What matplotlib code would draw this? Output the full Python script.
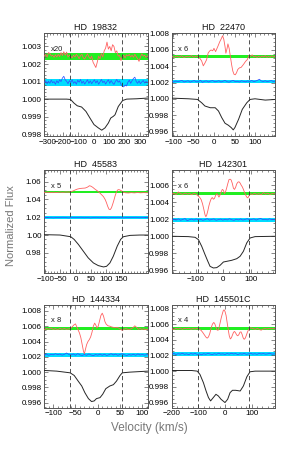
import matplotlib
matplotlib.use("Agg")
import matplotlib.pyplot as plt
from matplotlib.ticker import AutoMinorLocator, FixedLocator, FormatStrFormatter
import numpy as np

plt.rcParams['font.family'] = ['Liberation Sans', 'DejaVu Sans']

# ---------------- data (flux values in units of 1e-4 relative to 1) ----------------
names = ["HD  19832", "HD  22470", "HD  45583", "HD  142301", "HD  144334", "HD  145501C"]
factors = ["x20", "x 6", "x 5", "x 6", "x 8", "x 4"]
vlims = [(-152, 182), (-41, 85), (-18, 151), (-93, 93), (-62, 54), (-103, 91)]
xranges = [(-319, 349), (-104, 148), (-102.5, 235.5), (-186, 186), (-120, 112), (-200, 188)]
yranges = [(0.99791, 1.00375), (0.99545, 1.00805), (0.9574, 1.0724),
           (0.99569, 1.00772), (0.99538, 1.00877), (0.99537, 1.00842)]
xticks = [[-300, -200, -100, 0, 100, 200, 300], [-100, -50, 0, 50, 100],
          [-100, -50, 0, 50, 100, 150], [-100, 0, 100], [-100, -50, 0, 50, 100],
          [-200, -100, 0, 100]]
yticks = [[0.998, 0.999, 1.000, 1.001, 1.002, 1.003],
          [0.996, 0.998, 1.000, 1.002, 1.004, 1.006, 1.008],
          [0.98, 1.00, 1.02, 1.04, 1.06],
          [0.996, 0.998, 1.000, 1.002, 1.004, 1.006],
          [0.996, 0.998, 1.000, 1.002, 1.004, 1.006, 1.008],
          [0.996, 0.998, 1.000, 1.002, 1.004, 1.006, 1.008]]
yfmt = ["%.3f", "%.3f", "%.2f", "%.3f", "%.3f", "%.3f"]
# band centre / half width (1e-4 units): Stokes V (green) and null (cyan)
green_band = [(24.3, 2.2), (51.6, 1.8), (479, 12), (49.8, 1.8), (56.6, 2.2), (53.9, 1.7)]
cyan_band = [(9.6, 1.9), (21.5, 2.2), (196, 12), (19.5, 2.3), (22.9, 2.5), (21.9, 2.0)]

# ---- HD 19832 ----
v_I1 = [-319, -175, -149, -127, -106, -78, -50, -24, 2, 30, 52, 73, 95, 110, 127, 138, 159, 187, 213, 278, 349]
I1 = [0.0, 0.0, -0.2, -2.3, -3.8, -4.5, -7.0, -10.8, -14.5, -16.4, -17.7, -16.4, -13.6, -10.8, -9.8, -8.9, -4.2, -0.8, 0.0, 0.2, 0.6]
v_V1 = [-319, -310, -301, -292, -283, -274, -265, -256, -247, -238, -229, -220, -211, -202, -193, -184, -175,
        -166, -157, -148, -139, -130, -121, -112, -103, -94, -85, -76, -67, -58, -49, -40, -31, -22, -13, -4,
        5, 14, 23, 32, 41, 50, 59, 68, 77, 86, 95, 104, 113, 122, 131, 140, 149, 158, 167, 176, 185, 194, 203,
        212, 221, 230, 239, 248, 257, 266, 275, 284, 293, 302, 311, 320, 329, 338, 349]
V1 = [24.5, 25.5, 24.0, 26.5, 26.0, 24.5, 25.0, 23.8, 25.2, 24.0, 25.5, 24.2, 26.5, 24.8, 27.0, 25.0, 26.8,
      24.0, 25.0, 24.5, 23.5, 25.0, 24.0, 25.5, 24.5, 23.0, 24.8, 25.5, 23.5, 22.8, 24.5, 25.8, 24.0, 23.0, 24.5, 21.0,
      19.5, 18.0, 21.0, 24.5, 23.0, 26.0, 24.0, 27.5, 29.0, 32.5, 28.5, 30.0, 27.5, 31.0, 30.0, 26.5, 27.5, 24.5, 25.0,
      22.0, 24.0, 25.0, 23.5, 25.2, 24.6, 25.5, 24.0, 25.0, 23.8, 25.6, 24.2, 23.0, 21.5, 24.0, 25.8, 24.5, 25.0, 23.8, 24.6]
N1 = [9.5, 10.5, 8.8, 10.2, 9.0, 10.8, 9.3, 10.0, 8.5, 10.5, 9.2, 11.0, 10.0, 12.0, 13.0, 11.0, 10.2,
      8.8, 10.5, 9.5, 11.0, 9.0, 10.0, 8.5, 10.8, 9.6, 11.2, 9.0, 10.2, 8.6, 9.8, 11.0, 9.0, 10.4, 8.8, 10.0,
      11.0, 9.2, 10.5, 8.5, 9.8, 11.2, 9.4, 10.2, 8.6, 10.0, 11.0, 9.0, 10.6, 9.2, 8.4, 10.0, 11.2, 9.6, 10.4,
      8.5, 7.2, 7.0, 8.0, 7.5, 9.6, 10.8, 9.0, 10.5, 11.8, 12.5, 10.0, 9.0, 10.4, 8.8, 9.8, 10.6, 9.2, 10.0, 9.6]

# ---- HD 22470 ----
v_I2 = [-104, -63, -41, -31, -23, -10, 2, 10, 18, 26, 34, 41, 46, 50, 59, 68, 79, 87, 99, 124, 148]
I2 = [0.8, 0.0, -0.8, -4.9, -8.9, -11.0, -11.0, -15.0, -23.2, -30.1, -32.5, -35.4, -38.2, -35.4, -25.2, -13.0, -4.9, -0.8, 0.0, -1.6, -0.8]
v_V2 = [-104, -98, -92, -86, -80, -74, -68, -62, -56, -50, -44, -40, -35, -31, -27, -23, -19, -15, -11, -8, -4, -1,
        3, 6, 9, 13, 17, 20, 23, 26, 28, 31, 33, 36, 39, 42, 45, 48, 51, 54, 57, 61, 65, 69, 72, 76, 80, 84, 88,
        92, 96, 100, 104, 108, 112, 116, 120, 124, 128, 132, 136, 140, 144, 148]
V2 = [52.0, 51.0, 52.5, 51.2, 52.8, 50.8, 52.0, 51.5, 53.0, 51.2, 52.5, 52.0, 49.5, 46.5, 40.5, 44.0, 48.0, 56.5,
      59.0, 60.0, 59.0, 62.0, 58.0, 61.5, 65.0, 70.0, 74.0, 77.5, 73.0, 64.0, 56.0, 62.0, 67.5, 62.0, 52.0, 42.0,
      34.0, 30.0, 29.5, 32.0, 36.0, 38.0, 38.5, 41.0, 43.0, 46.0, 48.0, 53.0, 52.0, 54.0, 51.5, 52.5, 50.8, 52.2,
      51.0, 52.5, 51.5, 53.0, 51.0, 52.0, 51.2, 52.8, 51.5, 52.0]
v_N2 = [-104, -99, -94, -89, -84, -79, -74, -69, -64, -59, -54, -49, -44, -39, -34, -29, -24, -19, -14, -9, -4, 1,
        6, 11, 16, 21, 26, 31, 36, 41, 46, 51, 56, 61, 66, 71, 76, 81, 86, 91, 96, 101, 106, 110, 114, 119, 124,
        129, 134, 139, 144, 148]
N2 = [21.5, 20.5, 22.0, 20.8, 21.8, 22.6, 20.6, 21.4, 22.2, 20.4, 21.6, 22.4, 20.8, 21.2, 22.8, 20.2, 21.6, 22.0,
      20.6, 21.8, 22.4, 20.8, 21.4, 22.2, 20.6, 21.6, 22.6, 21.0, 20.4, 21.8, 22.6, 21.0, 21.6, 20.6, 22.2, 21.4,
      20.8, 22.0, 21.2, 22.6, 21.0, 21.8, 23.0, 24.0, 22.0, 21.2, 22.2, 21.0, 21.8, 22.4, 21.2, 21.8]

# ---- HD 45583 ----
v_I3 = [-102.5, -51, -16, -5, 9, 25, 41, 58, 74, 91, 101, 112, 123, 136, 147, 156, 178, 210, 235.5]
I3 = [4, 0, -19, -49, -106, -181, -256, -313, -343, -358, -351, -313, -238, -124, -49, -19, -4, 0, 0]
v_V3 = [-102, -92, -82, -72, -62, -52, -42, -32, -22, -16, -8, -2, 5, 14, 22, 31, 39, 45, 50, 56, 63, 70, 77,
        84, 91, 97, 101, 105, 109, 113, 117, 121, 125, 129, 133, 137, 141, 145, 150, 156, 163, 172, 182, 192,
        202, 212, 222, 235]
V3 = [478, 481, 476, 480, 477, 482, 479, 483, 481, 485, 495, 505, 515, 522, 525, 527, 538, 553, 548, 535, 515,
      498, 478, 455, 430, 395, 360, 320, 290, 285, 305, 345, 390, 440, 480, 505, 510, 505, 495, 480, 474, 472,
      476, 473, 477, 474, 476, 474]
v_N3 = [-102, -92, -82, -72, -62, -52, -42, -32, -22, -12, -2, 8, 18, 28, 38, 48, 58, 68, 78, 88, 98, 108, 118,
        128, 138, 148, 158, 168, 178, 188, 198, 208, 218, 228, 235]
N3 = [195, 198, 196, 193, 198, 195, 199, 196, 193, 198, 195, 197, 199, 194, 198, 193, 196, 199, 194, 198, 196,
      193, 198, 195, 199, 196, 193, 198, 195, 197, 199, 194, 198, 195, 196]

# ---- HD 142301 ----
v_I4 = [-186, -126, -102, -90, -78, -66, -56, -48, -36, -24, -12, 0, 12, 30, 48, 60, 72, 84, 96, 114, 186]
I4 = [0, -0.4, -1.2, -3.9, -11.8, -21.6, -29.4, -35.3, -37.2, -36.8, -34.1, -30.2, -29.4, -28.2, -26.3, -23.5, -17.6, -7.8, -2.0, -0.4, 0]
v_V4 = [-186, -178, -170, -162, -154, -146, -138, -130, -122, -114, -106, -98, -92, -86, -80, -75, -70, -66, -63,
        -60, -56, -52, -48, -44, -40, -36, -32, -28, -24, -20, -16, -12, -8, -4, 0, 4, 8, 12, 16, 20, 24, 28, 32,
        36, 40, 44, 48, 52, 56, 60, 64, 68, 72, 76, 80, 84, 88, 92, 96, 104, 112, 120, 128, 136, 144, 152, 160,
        168, 176, 186]
V4 = [49.5, 50.5, 49.0, 52.0, 50.0, 49.2, 50.8, 49.5, 50.2, 48.8, 50.5, 49.6, 47.5, 46.0, 43.0, 38.0, 31.0, 25.0,
      23.0, 25.0, 30.0, 36.0, 40.5, 44.0, 45.5, 43.5, 44.5, 48.0, 50.0, 48.5, 46.0, 48.5, 52.0, 55.0, 54.0, 50.0,
      52.5, 57.0, 62.0, 66.5, 67.0, 66.0, 62.0, 56.5, 55.0, 57.5, 61.5, 63.5, 64.0, 62.5, 60.0, 58.0, 55.0, 51.5,
      48.5, 46.0, 45.0, 47.5, 50.0, 49.0, 50.5, 49.2, 50.0, 48.8, 51.2, 49.5, 50.5, 49.0, 50.2, 49.6]
v_N4 = [-186, -178, -170, -162, -154, -146, -138, -130, -122, -114, -106, -98, -90, -82, -74, -66, -58, -50, -42,
        -34, -26, -18, -10, -2, 6, 14, 22, 30, 38, 46, 54, 62, 70, 78, 86, 94, 102, 110, 118, 126, 134, 142, 150,
        158, 166, 174, 186]
N4 = [19.5, 20.2, 19.0, 20.5, 18.8, 19.8, 20.8, 18.2, 19.5, 20.2, 19.0, 20.4, 19.2, 20.0, 18.8, 19.6, 20.6, 19.0,
      19.8, 20.4, 18.8, 19.6, 20.2, 19.0, 20.0, 19.2, 20.6, 19.4, 18.8, 20.0, 19.2, 20.4, 19.0, 19.8, 20.6, 19.2,
      19.8, 20.4, 19.0, 20.2, 21.0, 19.4, 20.0, 19.2, 20.6, 19.4, 20.0]

# ---- HD 144334 ----
v_I5 = [-120, -92, -62, -53, -44, -36, -29, -21, -14, -8, -3, 5, 11, 18, 27, 35, 42, 50, 55, 72, 112]
I5 = [2.2, 1.3, -0.9, -4.3, -11.7, -18.1, -26.8, -34.6, -38.4, -37.6, -34.6, -33.3, -28.9, -21.6, -18.1, -16.4, -11.7, -4.3, -0.9, 0.0, 1.3]
v_V5 = [-120, -115, -110, -105, -100, -95, -90, -85, -80, -75, -70, -65, -61, -57, -53, -50, -47, -44, -41, -38,
        -35, -32, -30, -28, -25, -22, -19, -16, -13, -10, -7, -4, -2, 1, 4, 7, 10, 13, 16, 19, 23, 27, 31, 35, 39,
        43, 47, 51, 55, 59, 63, 67, 71, 75, 79, 83, 87, 91, 95, 99, 103, 107, 112]
V5 = [55.5, 57.0, 56.0, 57.5, 55.8, 56.8, 55.5, 57.2, 56.0, 57.0, 55.8, 56.5, 57.0, 59.5, 62.0, 63.0, 59.0, 55.0,
      51.0, 45.0, 36.0, 27.0, 24.0, 29.0, 36.0, 40.0, 42.5, 46.0, 52.0, 60.0, 64.0, 61.0, 57.5, 60.0, 67.0, 74.0,
      77.0, 73.0, 66.0, 62.5, 60.5, 60.0, 59.0, 58.5, 58.0, 58.5, 57.5, 56.0, 54.5, 56.0, 57.0, 56.0, 55.5, 56.8,
      58.0, 60.5, 58.5, 56.0, 57.0, 55.8, 56.6, 55.5, 56.2]
v_N5 = [-120, -115, -110, -105, -100, -95, -90, -85, -80, -75, -70, -65, -60, -55, -50, -45, -40, -35, -30, -25,
        -20, -15, -10, -5, 0, 5, 10, 15, 20, 25, 30, 35, 40, 45, 50, 55, 60, 65, 70, 75, 80, 85, 90, 95, 100, 105, 112]
N5 = [22.5, 23.5, 22.0, 23.2, 22.6, 24.0, 22.8, 23.6, 22.2, 23.2, 25.0, 23.0, 22.4, 23.8, 22.0, 24.2, 22.6, 21.8,
      23.0, 22.0, 23.8, 22.4, 21.6, 23.0, 22.2, 23.6, 22.0, 23.4, 21.8, 22.8, 24.0, 22.4, 23.6, 22.0, 23.2, 24.0,
      22.6, 21.8, 23.0, 22.2, 23.4, 22.0, 23.8, 22.4, 23.0, 22.2, 23.0]

# ---- HD 145501C ----
v_I6 = [-200, -125, -104, -94, -81, -71, -62, -54, -44, -34, -25, -15, 0, 10, 19, 28, 40, 57, 69, 82, 94, 113, 188]
I6 = [0.8, 0.8, 0, -4.2, -14.7, -25.3, -33.7, -37.9, -33.7, -29.5, -31.6, -35.8, -40.0, -35.8, -27.4, -24.4, -24.4, -25.3, -18.9, -7.2, -0.8, 0, 0]
v_V6 = [-200, -192, -184, -176, -168, -160, -152, -144, -136, -128, -120, -112, -104, -97, -90, -84, -78, -72, -67,
        -62, -57, -52, -47, -42, -38, -34, -30, -26, -22, -18, -14, -10, -6, -3, 0, 4, 8, 12, 16, 20, 24, 28, 32,
        36, 40, 44, 48, 52, 56, 60, 64, 68, 72, 76, 80, 84, 88, 92, 98, 106, 114, 122, 130, 136, 142, 150, 158,
        166, 174, 182, 188]
V6 = [54.0, 53.0, 54.5, 53.5, 54.8, 53.2, 54.5, 53.8, 54.6, 53.4, 54.2, 53.6, 54.5, 53.5, 52.0, 49.5, 46.5, 43.5,
      42.0, 43.5, 48.0, 55.0, 60.0, 62.0, 60.0, 56.0, 52.5, 52.0, 56.0, 62.0, 68.0, 73.0, 77.5, 78.0, 76.0, 71.0,
      62.0, 53.0, 45.0, 41.0, 42.5, 46.0, 49.5, 50.5, 48.5, 46.0, 45.0, 46.5, 49.5, 50.0, 47.0, 42.5, 40.5, 42.0,
      45.5, 49.5, 52.5, 54.5, 55.0, 54.0, 53.2, 54.5, 52.8, 52.2, 53.5, 54.2, 53.6, 54.4, 53.8, 54.2, 53.8]
v_N6 = [-200, -192, -184, -176, -168, -160, -152, -144, -136, -128, -120, -112, -104, -96, -88, -80, -72, -64, -56,
        -48, -40, -32, -24, -16, -8, 0, 8, 16, 24, 32, 40, 48, 56, 64, 72, 80, 88, 96, 104, 112, 120, 128, 136,
        144, 152, 160, 168, 176, 188]
N6 = [21.8, 22.6, 21.2, 22.2, 21.6, 22.8, 21.4, 22.0, 21.0, 22.4, 21.6, 22.6, 21.2, 22.0, 20.8, 22.2, 21.4, 22.6,
      21.8, 21.0, 22.2, 21.4, 22.8, 21.6, 22.0, 21.2, 22.4, 21.6, 22.8, 21.8, 22.4, 21.0, 22.2, 21.6, 22.6, 21.4,
      22.0, 22.8, 21.6, 22.2, 21.4, 22.6, 21.8, 22.4, 21.6, 22.0, 22.8, 21.6, 22.0]

profiles_I = [(v_I1, I1), (v_I2, I2), (v_I3, I3), (v_I4, I4), (v_I5, I5), (v_I6, I6)]
profiles_V = [(v_V1, V1), (v_V2, V2), (v_V3, V3), (v_V4, V4), (v_V5, V5), (v_V6, V6)]
profiles_N = [(v_V1, N1), (v_N2, N2), (v_N3, N3), (v_N4, N4), (v_N5, N5), (v_N6, N6)]

# ---------------- figure ----------------
W, H = 299, 449
fig = plt.figure(figsize=(W / 100, H / 100), dpi=100)

col_left = [44.3, 171.7]
row_top = [33.3, 170.5, 305.0]
aw, ah = 103.4, 102.5

RED = '#ff6060'
GREEN = '#22ee22'
BLUE = '#3050ff'
CYAN = '#00dcff'
FRAME = '#555555'

def u(vals):
    return 1.0 + np.asarray(vals, dtype=float) * 1e-4

for i in range(6):
    r, c = divmod(i, 2)
    left = col_left[c] / W
    bottom = 1 - (row_top[r] + ah) / H
    ax = fig.add_axes([left, bottom, aw / W, ah / H])

    x0, x1 = xranges[i]
    gc, gw = green_band[i]
    cc, cw = cyan_band[i]
    ax.fill_between([x0, x1], u([gc - gw, gc - gw]), u([gc + gw, gc + gw]), color=GREEN, lw=0, zorder=1)
    ax.fill_between([x0, x1], u([cc - cw, cc - cw]), u([cc + cw, cc + cw]), color=CYAN, lw=0, zorder=1)

    vV, V = profiles_V[i]
    ax.plot(vV, u(V), color=RED, lw=0.6, zorder=3)
    vN, N = profiles_N[i]
    ax.plot(vN, u(N), color=BLUE, lw=0.55, zorder=3)
    vI, I = profiles_I[i]
    ax.plot(vI, u(I), color='#262626', lw=0.7, zorder=3)

    for vl in vlims[i]:
        ax.axvline(vl, color='#333333', lw=0.6, ls=(0, (5, 3.5)), zorder=4)

    ax.set_xlim(x0, x1)
    ax.set_ylim(*yranges[i])
    ax.xaxis.set_major_locator(FixedLocator(xticks[i]))
    ax.yaxis.set_major_locator(FixedLocator(yticks[i]))
    ax.yaxis.set_major_formatter(FormatStrFormatter(yfmt[i]))
    ax.xaxis.set_minor_locator(AutoMinorLocator(5))
    ax.yaxis.set_minor_locator(AutoMinorLocator(5 if i == 0 else 4))
    ax.tick_params(which='both', direction='in', top=True, right=True, color=FRAME,
                   labelsize=5.8, pad=2, width=0.5)
    ax.tick_params(which='major', length=2.6)
    ax.tick_params(which='minor', length=1.3)
    for s in ax.spines.values():
        s.set_color(FRAME)
        s.set_linewidth(0.7)
    ax.set_title(names[i], fontsize=6.5, pad=2.5, color='#111111')
    ax.text(0.06, 0.845, factors[i], transform=ax.transAxes, fontsize=5.5,
            ha='left', va='center', color='#222222', zorder=5)

fig.text(11 / W, 1 - 226 / H, "Normalized Flux", rotation=90, ha='center', va='center',
         fontsize=8, color='#777777')
fig.text(149 / W, 1 - 428 / H, "Velocity (km/s)", ha='center', va='center',
         fontsize=8.5, color='#777777')

fig.savefig("out.png", dpi=100)
